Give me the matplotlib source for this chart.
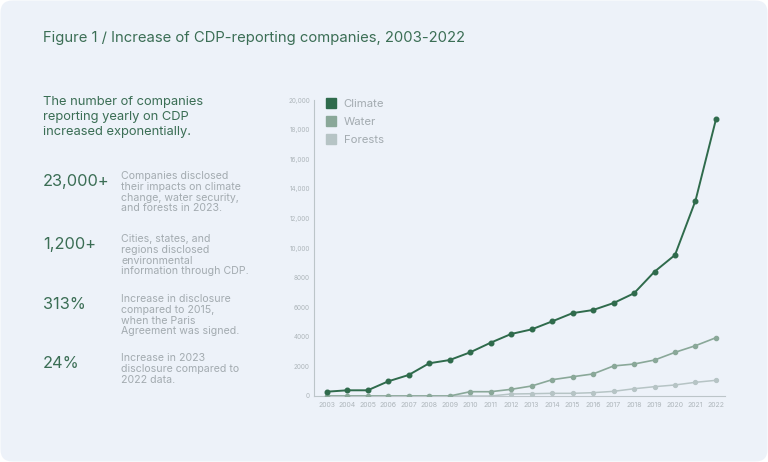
import matplotlib
matplotlib.use('Agg')
import matplotlib.pyplot as plt
from matplotlib.patches import FancyBboxPatch
from matplotlib.lines import Line2D

plt.rcParams['font.family'] = ['Inter', 'DejaVu Sans']

years = list(range(2003, 2023))
climate = [290, 385, 385, 990, 1420, 2210, 2430, 2950, 3600, 4190,
           4500, 5040, 5600, 5810, 6280, 6940, 8400, 9530, 13200, 18700]
water = [0, 0, 0, 0, 0, 0, 0, 290, 290, 450,
         675, 1100, 1300, 1490, 2030, 2160, 2430, 2950, 3400, 3940]
forests = [0, 0, 0, 0, 0, 0, 0, 0, 0, 135,
           155, 180, 180, 225, 315, 490, 630, 745, 925, 1060]

yticks = [0, 2000, 4000, 6000, 8000, 10000, 12000, 14000, 16000, 18000, 20000]
ytick_labels = ['0', '2000', '4000', '6000', '8000', '10,000', '12,000',
                '14,000', '16,000', '18,000', '20,000']

title = 'Figure 1 / Increase of CDP-reporting companies, 2003-2022'
subhead = ['The number of companies', 'reporting yearly on CDP',
           'increased exponentially.']
stats = ['23,000+', '1,200+', '313%', '24%']
stat_texts = [
    ['Companies disclosed', 'their impacts on climate',
     'change, water security,', 'and forests in 2023.'],
    ['Cities, states, and', 'regions disclosed', 'environmental',
     'information through CDP.'],
    ['Increase in disclosure', 'compared to 2015,', 'when the Paris',
     'Agreement was signed.'],
    ['Increase in 2023', 'disclosure compared to', '2022 data.'],
]

bg = '#edf2f9'
green = '#3b6e55'
grey_txt = '#a3abb0'
c_climate = '#2f6b4c'
c_water = '#8aa899'
c_forests = '#b6c4c5'

W, H = 768, 462
fig = plt.figure(figsize=(W / 100, H / 100), dpi=100, facecolor='white')

# rounded card behind everything
card = FancyBboxPatch((0.005, 0.005), W / 100 - 0.01, H / 100 - 0.01,
                      boxstyle='round,pad=0,rounding_size=0.12',
                      transform=fig.dpi_scale_trans, facecolor=bg,
                      edgecolor='none', zorder=-5)
fig.patches.append(card)


def px(x, y):
    return x / W, 1 - y / H


fig.text(*px(43, 42), title, fontsize=10.7, color=green, va='baseline')

for i, line in enumerate(subhead):
    fig.text(*px(43, 105 + 15 * i), line, fontsize=9.3, color=green,
             va='baseline')

num_base = [186, 249, 309, 368]
txt_base = [179, 242, 302, 361]
for num, nb, tb, lines in zip(stats, num_base, txt_base, stat_texts):
    fig.text(*px(43, nb), num, fontsize=11.8, color=green, va='baseline')
    for j, line in enumerate(lines):
        fig.text(*px(121, tb + 10.8 * j), line, fontsize=7.6,
                 color=grey_txt, va='baseline')

ax = fig.add_axes([314 / W, 66 / H, 411 / W, 296 / H])
ax.set_facecolor('none')
ax.set_zorder(2)

ax.plot(years, forests, color=c_forests, lw=1.1, marker='o', ms=2.8,
        zorder=3)
ax.plot(years, water, color=c_water, lw=1.2, marker='o', ms=3.0, zorder=4)
ax.plot(years, climate, color=c_climate, lw=1.4, marker='o', ms=3.3,
        zorder=5)

ax.set_xlim(2002.38, 2022.44)
ax.set_ylim(0, 20000)
ax.set_xticks(years)
ax.set_xticklabels([str(y) for y in years])
ax.set_yticks(yticks)
ax.set_yticklabels(ytick_labels)
ax.tick_params(length=0, labelsize=4.6, colors='#aeb6bb', pad=3)
ax.tick_params(axis='x', labelsize=5.0, pad=4)
for s in ['top', 'right']:
    ax.spines[s].set_visible(False)
for s in ['left', 'bottom']:
    ax.spines[s].set_color('#bcc5c9')
    ax.spines[s].set_linewidth(0.8)

handles = [Line2D([], [], ls='none', marker='s', ms=6.5, color=c)
           for c in [c_climate, c_water, c_forests]]
leg = ax.legend(handles, ['Climate', 'Water', 'Forests'], loc='upper left',
                bbox_to_anchor=(0.02, 1.02), frameon=False, fontsize=8.2,
                handlelength=0.8, handletextpad=0.7, labelspacing=0.72,
                borderaxespad=0)
for t in leg.get_texts():
    t.set_color(grey_txt)

fig.savefig('out.png', dpi=100, facecolor='white')
